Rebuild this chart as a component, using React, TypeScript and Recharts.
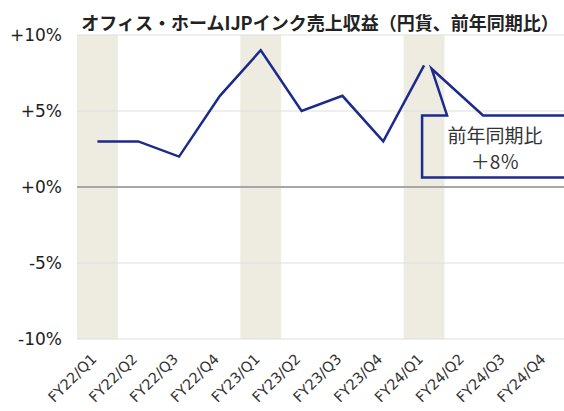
import React from 'react';
import { LineChart, Line, XAxis, YAxis, ReferenceArea, ReferenceLine, ReferenceDot } from 'recharts';

const title = 'オフィス・ホームIJPインク売上収益（円貨、前年同期比）';
const categories = ['FY22/Q1', 'FY22/Q2', 'FY22/Q3', 'FY22/Q4', 'FY23/Q1', 'FY23/Q2', 'FY23/Q3', 'FY23/Q4', 'FY24/Q1', 'FY24/Q2', 'FY24/Q3', 'FY24/Q4'];
const yoyValues: (number | null)[] = [3, 3, 2, 6, 9, 5, 6, 3, 8, null, null, null];
const shadedCategories = ['FY22/Q1', 'FY23/Q1', 'FY24/Q1'];
const yTicks = [-10, -5, 0, 5, 10];
const yTickLabels = ['-10%', '-5%', '+0%', '+5%', '+10%'];
const gridValues = [-10, -5, 5, 10];
const calloutCategory = 'FY24/Q1';
const calloutValue = 8;
const calloutLines = ['前年同期比', '＋8％'];

const data = categories.map((c, i) => ({ cat: c, yoy: yoyValues[i] }));

const NAVY = '#1b2a8c';
const FONT = '"Noto Sans CJK JP", "Noto Sans", sans-serif';
const TICK_FONT = '"DejaVu Sans", sans-serif';

const XTick = (props: any) => {
  const { x, y, payload } = props;
  return (
    <text x={x} y={y} transform={`rotate(-45 ${x} ${y})`} textAnchor="end" fontSize={14.5} fill="#333" fontFamily={TICK_FONT}>
      {payload.value}
    </text>
  );
};

const Callout = (props: any) => {
  const { cx, cy } = props;
  if (cx == null || cy == null) return null;
  const top = cy + 50;
  const bottom = cy + 112;
  const left = cx - 2;
  const right = cx + 220;
  const d = `M ${left} ${top} L ${cx + 23} ${top} L ${cx + 7.5} ${cy + 3.3} L ${cx + 59} ${top} L ${right} ${top} L ${right} ${bottom} L ${left} ${bottom} Z`;
  return (
    <g>
      <path d={d} fill="none" stroke={NAVY} strokeWidth={2.5} strokeLinejoin="miter" />
      <text x={cx + 71} y={cy + 78} textAnchor="middle" fontSize={19} fill="#333" fontFamily={FONT}>{calloutLines[0]}</text>
      <text x={cx + 71} y={cy + 104} textAnchor="middle" fontSize={19} fill="#333" fontFamily={FONT}>{calloutLines[1]}</text>
    </g>
  );
};

export default function App() {
  return (
    <div style={{ position: 'absolute', left: 0, top: 0, width: 567, height: 411, background: '#fff', fontFamily: FONT }}>
      <div style={{ position: 'absolute', left: 20, top: 13, width: 600, textAlign: 'center', fontSize: 18, lineHeight: '18px', fontWeight: 'bold', color: '#222', whiteSpace: 'nowrap' }}>
        {title}
      </div>
      <LineChart width={567} height={411} data={data} margin={{ top: 35, right: 0, bottom: 12, left: 0 }}>
        {shadedCategories.map((c) => (
          <ReferenceArea key={c} x1={c} x2={c} y1={-10} y2={10} fill="#eeebe1" fillOpacity={1} stroke="none" ifOverflow="visible" />
        ))}
        {gridValues.map((v) => (
          <ReferenceLine key={v} y={v} stroke="#dedede" strokeWidth={1} />
        ))}
        <ReferenceLine y={0} stroke="#a6a6a6" strokeWidth={2} />
        <XAxis dataKey="cat" type="category" scale="band" height={60} axisLine={false} tickLine={false} tickSize={0} tickMargin={21} tick={<XTick />} interval={0} />
        <YAxis
          type="number"
          domain={[-10, 10]}
          ticks={yTicks}
          width={77}
          axisLine={false}
          tickLine={false}
          tickSize={0}
          tickMargin={15}
          tickFormatter={(v: number) => yTickLabels[yTicks.indexOf(v)]}
          tick={{ fontSize: 17, fill: '#222', fontFamily: TICK_FONT }}
        />
        <Line dataKey="yoy" stroke={NAVY} strokeWidth={2.5} dot={false} activeDot={false} isAnimationActive={false} connectNulls={false} />
        <ReferenceDot x={calloutCategory} y={calloutValue} r={0} shape={<Callout />} ifOverflow="visible" />
      </LineChart>
    </div>
  );
}
